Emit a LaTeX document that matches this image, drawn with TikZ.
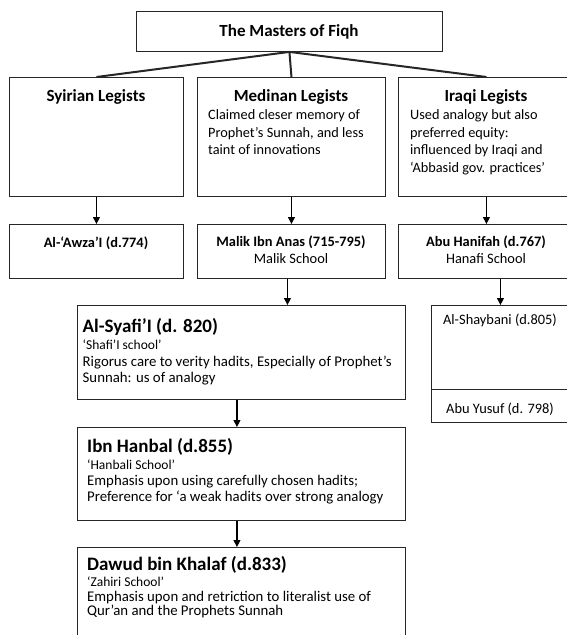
\documentclass[tikz,border=0pt]{standalone}
\usepackage{fontspec}
\setmainfont{Carlito}
\usetikzlibrary{arrows.meta}
\begin{document}
\begin{tikzpicture}[x=1pt,y=-1pt,
  box/.style={draw=black!85, line width=0.9pt, rectangle, inner sep=0pt, anchor=north west},
  leg/.style={draw=black!85, line width=2pt},
  arr/.style={draw=black, line width=1.1pt, -{Triangle[width=7pt,length=7pt]}},
  ttl/.style={font=\fontsize{17}{20}\selectfont\bfseries, inner sep=0pt, anchor=base},
  big/.style={font=\fontsize{19}{22}\selectfont\bfseries, inner sep=0pt, anchor=base west},
  dsc/.style={font=\fontsize{14.3}{17}\selectfont, inner sep=0pt, anchor=base west},
  low/.style={font=\fontsize{14.8}{17}\selectfont, inner sep=0pt, anchor=base west},
  sch/.style={font=\fontsize{13.5}{16}\selectfont, inner sep=0pt, anchor=base west},
  sub/.style={font=\fontsize{14.4}{17}\selectfont\bfseries, inner sep=0pt, anchor=base},
  reg/.style={font=\fontsize{14.4}{17}\selectfont, inner sep=0pt, anchor=base},
]
\useasboundingbox (0,0) rectangle (567,635);
\clip (0,0) rectangle (567,635);

% title
\node[box, minimum width=306pt, minimum height=40pt] (top) at (136,11) {};
\node[ttl] (topT) at (289,36.5) {The Masters of Fiqh};

% row 2
\node[box, minimum width=174pt, minimum height=119pt] (syr) at (9,77) {};
\node[box, minimum width=188pt, minimum height=119pt] (med) at (197,77) {};
\node[box, minimum width=176pt, minimum height=119pt] (irq) at (398,77) {};
\draw[leg] (top.south) -- (syr.north);
\draw[leg] (top.south) -- (med.north);
\draw[leg] (top.south) -- (irq.north);

\node[ttl] (syrT) at (96,101.5) {Syirian Legists};
\node[ttl] (medT) at (291,101.5) {Medinan Legists};
\node[ttl] (irqT) at (486,101.5) {Iraqi Legists};
\node[dsc] (med1) at (208,119) {Claimed cleser memory of};
\node[dsc] (med2) at (208,137) {Prophet’s Sunnah, and less};
\node[dsc] (med3) at (208,154) {taint of innovations};
\node[dsc] (irq1) at (410,119) {Used analogy but also};
\node[dsc] (irq2) at (410,137) {preferred equity:};
\node[dsc] (irq3) at (410,154) {influenced by Iraqi and};
\node[dsc] (irq4) at (410,172) {‘Abbasid gov. practices’};

% row 3
\node[box, minimum width=174pt, minimum height=54pt] (awz) at (9,224) {};
\node[box, minimum width=188pt, minimum height=54pt] (mal) at (197,224) {};
\node[box, minimum width=176pt, minimum height=54pt] (han) at (398,224) {};
\draw[arr] (syr.south) -- (awz.north);
\draw[arr] (med.south) -- (mal.north);
\draw[arr] (irq.south) -- (han.north);
\node[sub] (awzT) at (96,247) {Al-‘Awza’I (d.774)};
\node[sub] (malT) at (291,246) {Malik Ibn Anas (715-795)};
\node[reg] (malS) at (291,263.5) {Malik School};
\node[sub] (hanT) at (486,246) {Abu Hanifah (d.767)};
\node[reg] (hanS) at (486,263.5) {Hanafi School};

% Shaybani / Abu Yusuf
\node[box, minimum width=138pt, minimum height=84pt] (shy) at (431,305) {};
\node[box, minimum width=138pt, minimum height=33pt] (yus) at (431,389) {};
\node[reg] (shyT) at (500,324.5) {Al-Shaybani (d.805)};
\node[reg] (yusT) at (500,413) {Abu Yusuf (d. 798)};
\draw[arr] (han.south -| shy.north) -- (shy.north);

% Syafi'i
\node[box, minimum width=328pt, minimum height=94pt] (saf) at (76.5,305) {};
\draw[arr] ([xshift=-4pt]mal.south) -- ([xshift=-4pt]mal.south |- saf.north);
\node[big] (safT) at (82.5,332) {Al-Syafi’I (d. 820)};
\node[sch] (saf1) at (82.5,349) {‘Shafi’I school’};
\node[low] (saf2) at (82.5,366) {Rigorus care to verity hadits, Especially of Prophet’s};
\node[low] (saf3) at (82.5,382) {Sunnah: us of analogy};

% Hanbal
\node[box, minimum width=328pt, minimum height=93pt] (hnb) at (76.5,427) {};
\draw[arr] ([xshift=-4pt]saf.south) -- ([xshift=-4pt]hnb.north);
\node[big] (hnbT) at (87,452) {Ibn Hanbal (d.855)};
\node[sch] (hnb1) at (87,469) {‘Hanbali School’};
\node[low] (hnb2) at (87,485) {Emphasis upon using carefully chosen hadits;};
\node[low] (hnb3) at (87,501) {Preference for ‘a weak hadits over strong analogy};

% Dawud
\node[box, minimum width=328pt, minimum height=100pt] (daw) at (76.5,547) {};
\draw[arr] ([xshift=-4pt]hnb.south) -- ([xshift=-4pt]daw.north);
\node[big] (dawT) at (87,570) {Dawud bin Khalaf (d.833)};
\node[sch] (daw1) at (87,586) {‘Zahiri School’};
\node[low] (daw2) at (87,601) {Emphasis upon and retriction to literalist use of};
\node[low] (daw3) at (87,615.5) {Qur’an and the Prophets Sunnah};
\end{tikzpicture}
\end{document}
